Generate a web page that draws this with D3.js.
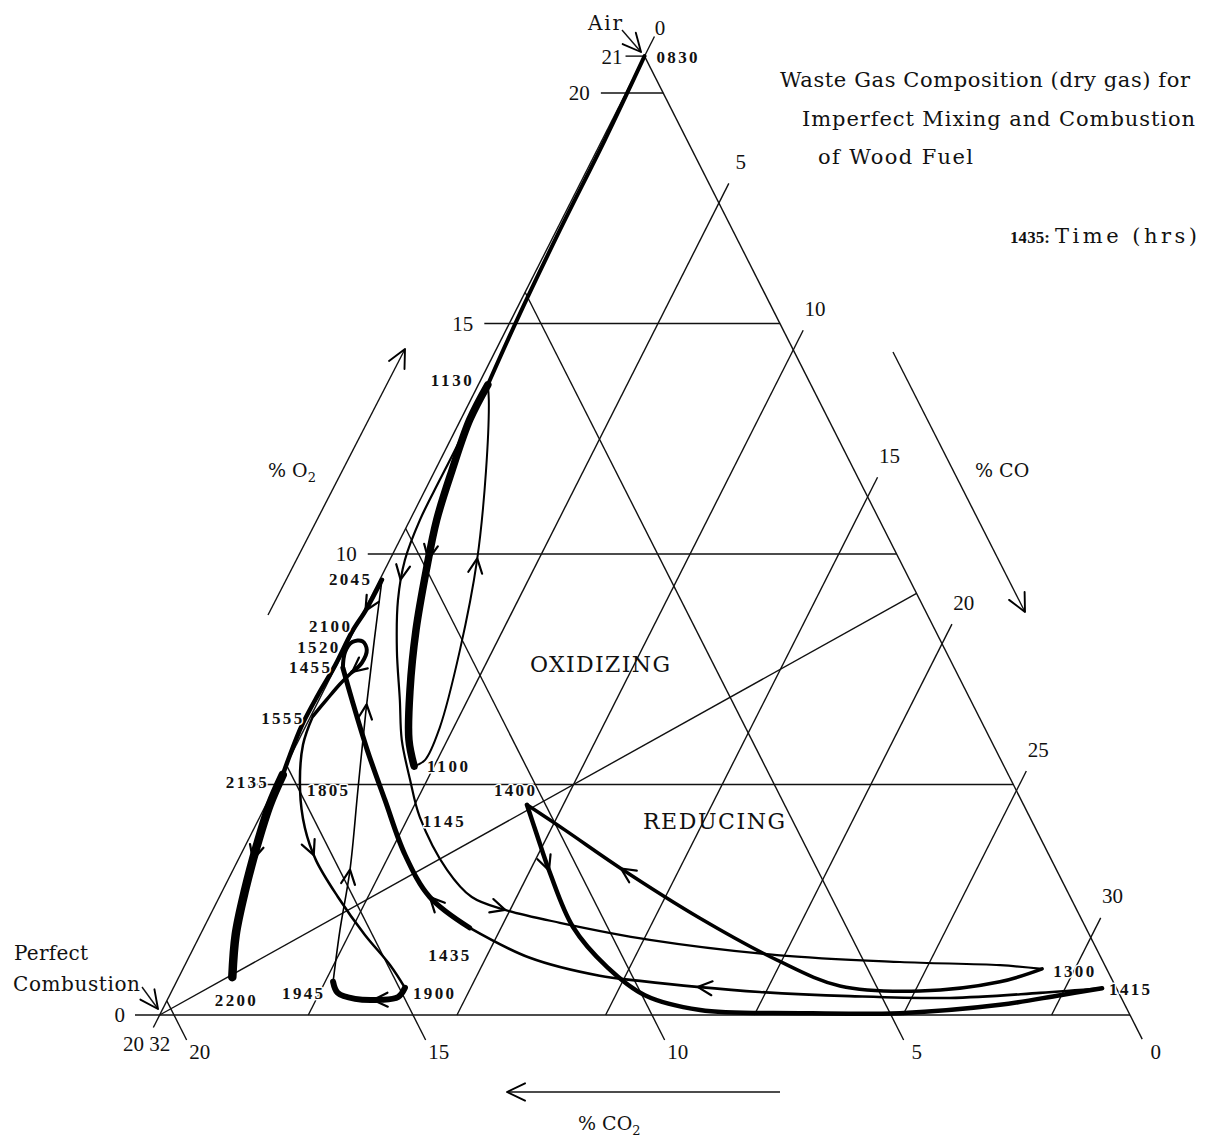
<!DOCTYPE html>
<html lang="en">
<head>
  <meta charset="UTF-8" />
  <title>Waste Gas Composition (dry gas) - Wood Fuel</title>
  <script src="https://d3js.org/d3.v7.min.js"></script>
  <style>
    body { margin: 0; background: #fff; }
    svg { display: block; background: #fff; }
    text { font-family: "DejaVu Serif", "Liberation Serif", serif; fill: #111; }
    .num { font-family: "Liberation Serif", serif; font-size: 21px; }
    .time { font-family: "Liberation Serif", serif; font-weight: bold; font-size: 17px;
            paint-order: stroke; stroke: #fff; stroke-width: 3px; stroke-linejoin: round; }
    .grid { stroke: #111; stroke-width: 1.4; fill: none; }
    .trace { stroke: #000; fill: none; stroke-linecap: round; stroke-linejoin: round; }
  </style>
</head>
<body>
<svg id="chart" width="1205" height="1141"></svg>
<script>
// Diagram constants (% of dry gas)
const O2_AIR = 20.8;     // air corner
const CO2_MAX = 20.3;    // perfect combustion corner
const CO_STEP = 0.622;   // % CO2 displaced per % CO along an iso-CO line

// grid values
const o2Lines = [5, 10, 15, 20];
const o2Labels = [0, 10, 15, 20];
const co2Lines = [5, 10, 15, 20];
const co2Labels = [0, 5, 10, 15, 20];
const coLines = [5, 10, 15, 20, 25, 30];
const coLabels = [0, 5, 10, 15, 20, 25, 30];

// measured flue gas path, [ %CO2, %O2 ]
const leg_0830_1130 = [[0, 20.8], [1.72, 18.98], [3.61, 17.03], [5.46, 15.08], [6.76, 13.67]];
const leg_1130_1100 = [[6.76, 13.67], [7.51, 12.91], [8.41, 11.82], [9.26, 10.74], [10.01, 9.65],
  [10.86, 8.35], [11.62, 7.05], [12.17, 5.97], [12.34, 5.40]];
const leg_1100_1130 = [[12.34, 5.40], [12.05, 5.53], [11.40, 6.23], [10.15, 7.92], [8.84, 9.87],
  [7.70, 11.82], [6.90, 13.34], [6.76, 13.67]];
const leg_1130_1300 = [[6.76, 13.67], [7.13, 13.34], [7.93, 12.47], [8.77, 11.61], [9.61, 10.74],
  [10.35, 9.87], [10.92, 9.00], [11.47, 7.92], [11.94, 6.83], [12.32, 5.97], [12.57, 5.10],
  [12.76, 4.30], [12.75, 3.15], [12.52, 2.56], [11.96, 2.28], [10.95, 2.00], [9.25, 1.63],
  [6.75, 1.30], [4.25, 1.15], [2.19, 1.08], [1.35, 1.00]];
const leg_1300_1400 = [[1.35, 1.00], [2.37, 0.72], [4.14, 0.52], [5.76, 0.63], [6.80, 1.19],
  [7.97, 2.10], [9.11, 3.19], [9.86, 4.01], [10.39, 4.56]];
const leg_1400_1415 = [[10.39, 4.56], [10.50, 3.90], [10.63, 3.08], [10.72, 1.91], [10.43, 1.04],
  [9.94, 0.43], [8.94, 0.11], [6.88, 0.04], [4.79, 0.04], [2.61, 0.22], [1.25, 0.43], [0.30, 0.58]];
const leg_1415_1435 = [[0.30, 0.58], [1.65, 0.48], [3.59, 0.37], [5.66, 0.41], [7.50, 0.50],
  [8.76, 0.61], [9.89, 0.74], [10.68, 0.85], [11.95, 1.24], [12.89, 1.89]];
const leg_1435_1455 = [[12.89, 1.89], [13.40, 2.56], [13.47, 3.47], [13.31, 4.66], [13.15, 5.75],
  [12.94, 6.83], [12.79, 7.53]];
const leg_1455_1520 = [[12.79, 7.53], [12.58, 7.87], [12.32, 8.09], [12.10, 8.11], [12.10, 7.92],
  [12.34, 7.64], [12.64, 7.44]];
const leg_1520_1555 = [[12.64, 7.44], [13.02, 7.18], [13.48, 6.83], [13.92, 6.49]];
const leg_1555_1900 = [[13.92, 6.49], [14.44, 5.86], [14.98, 4.88], [15.28, 4.06], [15.39, 3.36],
  [15.32, 2.56], [15.16, 1.74], [14.95, 1.08], [14.88, 0.59]];
const leg_1900_1945 = [[14.88, 0.59], [15.12, 0.39], [15.53, 0.33], [16.04, 0.35], [16.34, 0.48],
  [16.32, 0.72]];
const leg_1945_2045 = [[16.32, 0.72], [15.63, 1.84], [14.78, 3.15], [13.77, 4.88], [12.75, 6.62],
  [11.84, 8.13], [11.04, 9.44]];
const leg_2045_2135 = [[11.04, 9.44], [11.69, 8.79], [12.22, 8.31], [12.92, 7.59], [13.60, 6.94],
  [14.25, 6.29], [14.82, 5.64], [15.18, 5.21]];
const leg_2135_2200 = [[15.18, 5.21], [15.77, 4.56], [16.46, 3.69], [17.19, 2.71], [17.86, 1.74],
  [18.38, 0.82]];

// time of reading, %CO2, %O2
const timeMarks = [
  ["0830", 0, 20.8], ["1100", 12.34, 5.40], ["1130", 6.76, 13.67], ["1145", 12.76, 4.30],
  ["1300", 1.35, 1.00], ["1400", 10.39, 4.56], ["1415", 0.30, 0.58], ["1435", 12.89, 1.89],
  ["1455", 12.79, 7.53], ["1520", 12.32, 8.09], ["1555", 13.92, 6.49], ["1805", 14.98, 4.88],
  ["1900", 14.88, 0.59], ["1945", 16.32, 0.72], ["2045", 11.04, 9.44], ["2100", 12.22, 8.31],
  ["2135", 15.18, 5.21], ["2200", 18.38, 0.82]
];

// ---- layout / style ----
const legs = [
  { pts: leg_0830_1130, w: 4, arrows: [] },
  { pts: leg_1130_1100, w: 7.5, arrows: [0.47] },
  { pts: leg_1100_1130, w: 2, arrows: [0.56] },
  { pts: leg_1130_1300, w: 2.2, arrows: [0.19, 0.52] },
  { pts: leg_1300_1400, w: 3.5, arrows: [0.8] },
  { pts: leg_1400_1415, w: 4.5, arrows: [0.1] },
  { pts: leg_1415_1435, w: 2.6, arrows: [0.63] },
  { pts: leg_1435_1455, w: 5, arrows: [0.17] },
  { pts: leg_1455_1520, w: 4, arrows: [1] },
  { pts: leg_1520_1555, w: 3.5, arrows: [] },
  { pts: leg_1555_1900, w: 2.5, arrows: [0.47] },
  { pts: leg_1900_1945, w: 6, arrows: [0.43] },
  { pts: leg_1945_2045, w: 1.6, arrows: [0.28, 0.69] },
  { pts: leg_2045_2135, w: 4.5, arrows: [0.16] },
  { pts: leg_2135_2200, w: 8.5, arrows: [0.43] }
];
// label anchor and pixel offset from the marked point
const timeLabelPos = {
  "0830": ["start", 12, 7], "1100": ["start", 13, 6], "1130": ["end", -16, 1],
  "1145": ["start", 3, 10], "1300": ["start", 11, 8], "1400": ["end", 8, -9],
  "1415": ["start", 7, 7], "1435": ["middle", -21, 33], "1455": ["end", -13, 5],
  "1520": ["end", -14, 11], "1555": ["end", -11, 8], "1805": ["start", 7, 6],
  "1900": ["start", 8, 11], "1945": ["end", -10, 17], "2045": ["end", -12, 5],
  "2100": ["end", -2, 0], "2135": ["end", -16, 13], "2200": ["middle", 3, 29]
};

const yS = d3.scaleLinear().domain([0, 20]).range([1015, 93]);
const xS = d3.scaleLinear().domain([0, 20]).range([1130, 174]);
const SKEW = 0.5063;   // slant of the iso-CO2 lines
const P = (co2, o2) => [xS(co2) - SKEW * (yS(0) - yS(o2)), yS(o2)];
const ext = (a, b, d) => {
  const dx = b[0] - a[0], dy = b[1] - a[1], L = Math.hypot(dx, dy);
  return [b[0] + dx / L * d, b[1] + dy / L * d];
};

const svg = d3.select("#chart");
const grid = svg.append("g");
const traces = svg.append("g");
const labels = svg.append("g");

function seg(a, b, w) {
  grid.append("line").attr("class", "grid")
    .attr("x1", a[0]).attr("y1", a[1]).attr("x2", b[0]).attr("y2", b[1])
    .attr("stroke-width", w || 1.4);
}
function chevron(parent, tip, ang, len, w) {
  const a1 = [tip[0] - len * Math.cos(ang - 0.45), tip[1] - len * Math.sin(ang - 0.45)];
  const a2 = [tip[0] - len * Math.cos(ang + 0.45), tip[1] - len * Math.sin(ang + 0.45)];
  parent.append("path").attr("class", "trace").attr("stroke-width", w)
    .attr("d", `M${a1}L${tip}L${a2}`);
}
function txt(x, y, s, cls, anchor) {
  return labels.append("text").attr("x", x).attr("y", y).attr("class", cls || null)
    .attr("text-anchor", anchor || "start").text(s);
}

// ---- triangle frame ----
const apex = P(0, O2_AIR);
const corner = P(CO2_MAX, 0);
const rightCorner = P(0, 0);
seg(ext(apex, corner, 14), ext(corner, apex, 22), 1.6);        // CO = 0 edge
seg(apex, ext(apex, rightCorner, 27), 1.6);                    // CO2 = 0 edge
seg([135, yS(0)], rightCorner, 2.2);                           // O2 = 0
seg([apex[0] - 19, apex[1]], apex, 1.6);                       // 21 tick

// O2 lines
o2Lines.forEach(v => {
  const l = P(CO2_MAX * (1 - v / O2_AIR), v);
  seg([l[0] - 25, l[1]], P(0, v), 1.8);
});
// CO2 lines
co2Lines.forEach(v => {
  seg(ext(P(v, O2_AIR * (1 - v / CO2_MAX)), P(v, 0), 28), P(v, O2_AIR * (1 - v / CO2_MAX)));
});
// CO lines
coLines.forEach(k => {
  const b = P(CO2_MAX - CO_STEP * k, 0);
  const t = P(0, O2_AIR * (1 - CO_STEP * k / CO2_MAX));
  seg(b, ext(b, t, 22));
});
// stoichiometric line (O2 = CO/2) between oxidizing and reducing
const kS = O2_AIR / (0.5 + O2_AIR * CO_STEP / CO2_MAX);
seg(corner, P(0, kS / 2), 1.5);

// ---- axis labels ----
o2Labels.forEach(v => {
  const l = P(v === 0 ? CO2_MAX : CO2_MAX * (1 - v / O2_AIR), v);
  txt(v === 0 ? 125 : l[0] - 36, l[1] + 7, v, "num", "end");
});
txt(apex[0] - 22, apex[1] + 8, "21", "num", "end");
coLabels.forEach(k => {
  const b = P(CO2_MAX - CO_STEP * k, 0);
  const t = P(0, O2_AIR * (1 - CO_STEP * k / CO2_MAX));
  const c = k === 0 ? ext(corner, apex, 32) : ext(b, t, 46);
  txt(c[0] + 1, c[1] + 7, k, "num", "middle");
});
const dirR = ext(apex, rightCorner, 28);
co2Labels.forEach(v => {
  const b = P(v, 0);
  txt(b[0] + (dirR[0] - rightCorner[0]) + 13, b[1] + (dirR[1] - rightCorner[1]) + 19, v, "num", "middle");
});
txt(123, 1051, "20 32", "num").attr("font-size", 18);

// ---- trajectory ----
const curve = d3.line().x(d => P(d[0], d[1])[0]).y(d => P(d[0], d[1])[1])
  .curve(d3.curveCatmullRom.alpha(0.5));
legs.forEach(leg => {
  const path = traces.append("path").attr("class", "trace")
    .attr("stroke-width", leg.w).attr("d", curve(leg.pts));
  const node = path.node(), L = node.getTotalLength();
  leg.arrows.forEach(f => {
    const s = Math.max(3, f * L);
    const p = node.getPointAtLength(s), q = node.getPointAtLength(s - 3);
    chevron(traces, [p.x, p.y], Math.atan2(p.y - q.y, p.x - q.x), 16, 2.2);
  });
});

timeMarks.forEach(([t, co2, o2]) => {
  const p = P(co2, o2), pos = timeLabelPos[t];
  txt(p[0] + pos[1], p[1] + pos[2], t, "time", pos[0]).attr("textLength", 41);
});

// ---- direction arrows ----
function arrow(a, b) {
  seg(a, b, 1.7);
  chevron(grid, b, Math.atan2(b[1] - a[1], b[0] - a[0]), 20, 1.9);
}
arrow([268, 615], [405, 349]);
arrow([893, 352], [1025, 612]);
arrow([780, 1092], [507, 1092]);
arrow([622, 30], [641, 52]);
arrow([142, 987], [158, 1009]);

function pct(x, y, base, sub) {
  const t = txt(x, y, "% " + base).attr("font-size", 19);
  if (sub) t.append("tspan").attr("dy", 5).attr("font-size", 13).text(sub);
}
pct(268, 477, "O", "2");
pct(975, 477, "CO");
pct(578, 1130, "CO", "2");

// ---- captions ----
txt(588, 30, "Air").attr("font-size", 20).attr("textLength", 34);
txt(780, 87, "Waste Gas Composition (dry gas) for").attr("font-size", 21).attr("textLength", 410);
txt(802, 126, "Imperfect Mixing and Combustion").attr("font-size", 21).attr("textLength", 393);
txt(818, 164, "of Wood Fuel").attr("font-size", 21).attr("textLength", 155);
txt(1010, 243, "1435:", "time").attr("font-size", 17).attr("textLength", 40);
txt(1055, 243, "Time (hrs)").attr("font-size", 21).attr("textLength", 142);
txt(14, 960, "Perfect").attr("font-size", 20).attr("textLength", 74);
txt(13, 991, "Combustion").attr("font-size", 20).attr("textLength", 127);
txt(530, 672, "OXIDIZING").attr("font-size", 22).attr("textLength", 140);
txt(643, 829, "REDUCING").attr("font-size", 22).attr("textLength", 142);
</script>
</body>
</html>
